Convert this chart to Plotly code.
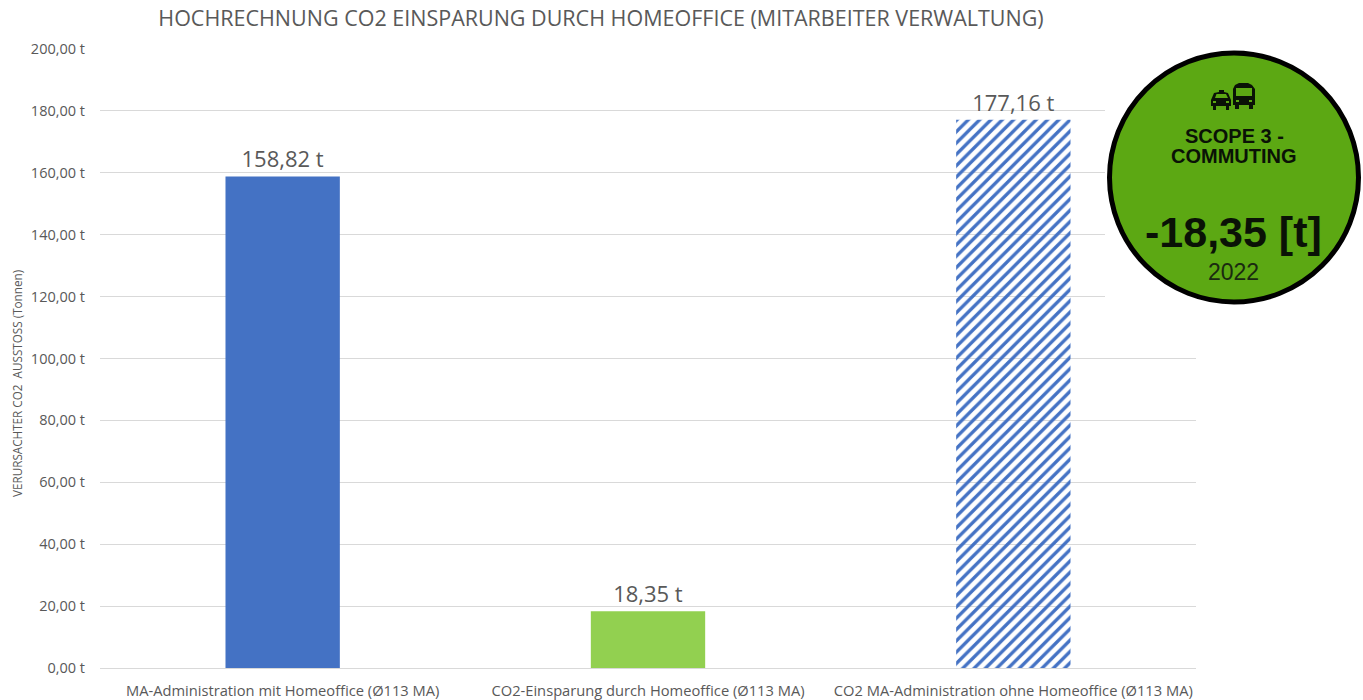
import plotly.graph_objects as go

categories = ["MA-Administration mit Homeoffice (Ø113 MA)",
              "CO2-Einsparung durch Homeoffice (Ø113 MA)",
              "CO2 MA-Administration ohne Homeoffice (Ø113 MA)"]
values = [158.82, 18.35, 177.16]
tick_values = [0, 20, 40, 60, 80, 100, 120, 140, 160, 180, 200]
tick_labels = ["0,00 t", "20,00 t", "40,00 t", "60,00 t", "80,00 t", "100,00 t",
               "120,00 t", "140,00 t", "160,00 t", "180,00 t", "200,00 t"]
title_text = "HOCHRECHNUNG CO2 EINSPARUNG DURCH HOMEOFFICE (MITARBEITER VERWALTUNG)"
y_title = "VERURSACHTER CO2  AUSSTOSS (Tonnen)"

W, H = 1363, 700
FONT = "Open Sans"
GREY = "#595959"
INK = "#0A1206"
BADGE = "#5CA813"

def px(x):
    return x / W
def py(y):
    return 1 - y / H
def path(points, close=True):
    s = "M" + " L".join(f"{px(x):.5f},{py(y):.5f}" for x, y in points)
    return s + (" Z" if close else "")

fig = go.Figure(go.Bar(
    x=categories, y=values, width=0.313,
    marker=dict(
        color=["#4472C4", "#92D050", "#4472C4"],
        line=dict(width=0),
        pattern=dict(shape=["", "", "/"], fgcolor=["#4472C4", "#92D050", "#4472C4"],
                     bgcolor=["#4472C4", "#92D050", "#FFFFFF"],
                     fgopacity=1, fillmode="replace", size=8, solidity=0.42),
    ),
    texttemplate="%{y:.2f} t", textposition="outside", cliponaxis=False,
    textfont=dict(family=FONT, size=22, color=GREY),
    hoverinfo="x+y",
))

shapes = [
    dict(type="rect", xref="paper", yref="paper", x0=px(1105), x1=1, y0=py(306), y1=py(30),
         fillcolor="white", line_width=0, layer="above"),
    dict(type="circle", xref="paper", yref="paper", x0=px(1109.5), x1=px(1358.5), y0=py(302), y1=py(53),
         fillcolor=BADGE, line=dict(color="#000000", width=5), layer="above"),
]
def blob(points, color):
    shapes.append(dict(type="path", xref="paper", yref="paper", path=path(points),
                       fillcolor=color, line=dict(width=0), layer="above"))
# taxi icon
blob([(1211, 106), (1211, 100), (1214, 93), (1219, 92), (1219, 90), (1224, 90), (1224, 92),
      (1228, 93), (1231, 100), (1231, 106), (1229, 106), (1229, 110), (1226, 110), (1226, 106),
      (1216, 106), (1216, 110), (1213, 110), (1213, 106)], INK)
blob([(1216.5, 94), (1226, 94), (1228, 98), (1215, 98)], BADGE)
blob([(1213, 101), (1216, 101), (1216, 103), (1213, 103)], BADGE)
blob([(1226, 101), (1229, 101), (1229, 103), (1226, 103)], BADGE)
# bus icon
blob([(1233, 89), (1235, 85), (1239, 83), (1248, 83), (1252, 85), (1255, 89), (1255, 105),
      (1253, 105), (1253, 109), (1249, 109), (1249, 105), (1239, 105), (1239, 109), (1235, 109),
      (1235, 105), (1233, 105)], INK)
blob([(1236, 88), (1252, 88), (1252, 96), (1236, 96)], BADGE)
blob([(1236, 100), (1239, 100), (1239, 102), (1236, 102)], BADGE)
blob([(1249, 100), (1252, 100), (1252, 102), (1249, 102)], BADGE)

def note(text, x, y, size, color, family=FONT, bold=False, angle=0):
    return dict(text=f"<b>{text}</b>" if bold else text, xref="paper", yref="paper",
                x=px(x), y=py(y), xanchor="center", yanchor="middle", showarrow=False,
                textangle=angle, font=dict(family=family, size=size, color=color))

annotations = [
    note(y_title, 17, 384, 11.7, GREY, angle=-90),
    note("SCOPE 3 -", 1234, 136, 20, INK, "Liberation Sans", True),
    note("COMMUTING", 1234, 156, 20, INK, "Liberation Sans", True),
    note("-18,35 [t]", 1233.5, 232, 43, INK, "Liberation Sans", True),
    note("2022", 1233, 272, 23, "#1A2A10", "Liberation Sans"),
]

fig.update_layout(
    width=W, height=H, margin=dict(l=0, r=0, t=0, b=0, autoexpand=False),
    paper_bgcolor="white", plot_bgcolor="white", separators=",.",
    showlegend=False,
    title=dict(text=title_text, x=601 / W, xanchor="center", y=py(18), yanchor="middle",
               font=dict(family=FONT, size=21.5, color=GREY)),
    font=dict(family=FONT, color=GREY),
    xaxis=dict(domain=[px(100), px(1196)], showgrid=False, ticks="", automargin=False,
               showline=True, linecolor="#D9D9D9", linewidth=1, ticklabelstandoff=9,
               tickfont=dict(family=FONT, size=14.7, color=GREY)),
    yaxis=dict(domain=[py(668), py(49)], range=[0, 200], tickmode="array",
               tickvals=tick_values, ticktext=tick_labels, automargin=False,
               showgrid=True, gridcolor="#D9D9D9", ticklabelstandoff=14,
               gridwidth=1, zeroline=False, ticks="",
               tickfont=dict(family=FONT, size=14.5, color=GREY)),
    shapes=shapes, annotations=annotations,
)
fig.write_html("out.html", post_script="document.body.style.margin='0';",
               config={"displayModeBar": False})
